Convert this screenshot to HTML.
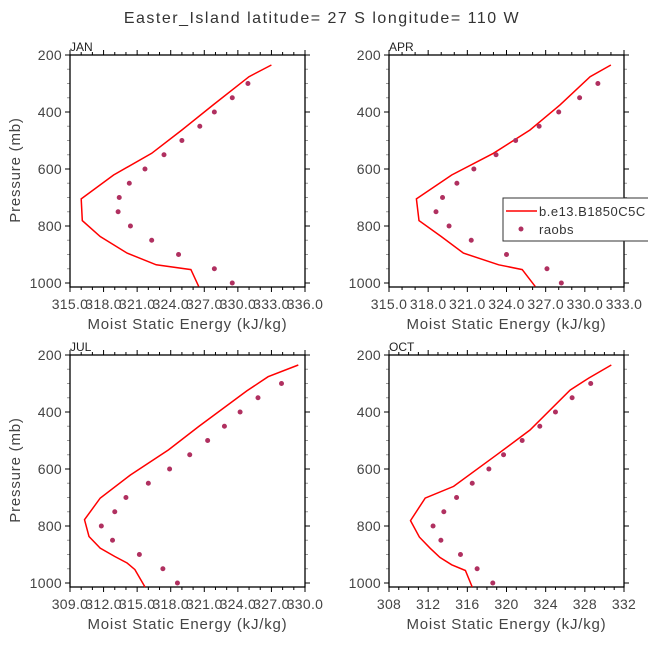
<!DOCTYPE html>
<html><head><meta charset="utf-8"><style>
html,body{margin:0;padding:0;background:#fff;}
svg text{font-family:"Liberation Sans",sans-serif;}
</style></head><body>
<svg id="chart" width="648" height="648" viewBox="0 0 648 648" xmlns="http://www.w3.org/2000/svg">
<rect width="648" height="648" fill="#fff"/>
<text x="322" y="23" text-anchor="middle" font-size="16" letter-spacing="1.5" fill="#333">Easter_Island  latitude= 27 S longitude= 110 W</text>
<g id="panels"></g>
<g>
<rect x="503" y="198" width="150" height="43" fill="#fff" stroke="#333" stroke-width="1"/>
<line x1="506" y1="211" x2="537" y2="211" stroke="#f00" stroke-width="1.5"/>
<text x="539" y="216" font-size="13" letter-spacing="0.5" fill="#333">b.e13.B1850C5C</text>
<circle cx="521" cy="229" r="2.5" fill="#b03060"/>
<text x="539" y="234" font-size="13" letter-spacing="0.5" fill="#333">raobs</text>
</g>
</svg>
<script>
// Data
const months = ["JAN","APR","JUL","OCT"];
const obsLevels = [300,350,400,450,500,550,600,650,700,750,800,850,900,950,1000];
const janModelP = [235,276,375,463,545,621,705,781,837,895,936,953,1012];
const janModelV = [333.0,331.0,327.8,325.0,322.3,318.9,316.0,316.1,317.7,320.1,322.7,325.8,326.5];
const janObs = [330.9,329.5,327.9,326.6,325.0,323.4,321.7,320.3,319.4,319.3,320.4,322.3,324.7,327.9,329.5];
const aprModelP = [235,276,375,463,545,621,705,781,837,895,936,953,1012];
const aprModelV = [332.0,330.4,328.1,325.8,323.0,319.8,317.1,317.3,319.0,320.7,323.4,325.2,326.2];
const aprObs = [331.0,329.6,328.0,326.5,324.7,323.2,321.5,320.2,319.1,318.6,319.6,321.3,324.0,327.1,328.2];
const julModelP = [235,276,326,451,533,621,702,778,837,878,907,930,953,1014];
const julModelV = [329.4,326.7,324.8,320.5,317.8,314.4,311.7,310.3,310.7,311.7,313.0,314.1,314.8,315.7];
const julObs = [327.9,325.8,324.2,322.8,321.3,319.7,317.9,316.0,314.0,313.0,311.8,312.8,315.2,317.3,318.6];
const octModelP = [235,281,323,463,550,661,702,781,839,878,910,936,956,1014];
const octModelV = [330.7,328.4,326.5,322.4,319.0,314.6,311.7,310.2,311.1,312.2,313.2,314.4,315.8,316.5];
const octObs = [328.6,326.7,325.0,323.4,321.6,319.7,318.2,316.5,314.9,313.6,312.5,313.3,315.3,317.0,318.6];
const xMins = [315,315,309,308];
const xMaxs = [336,333,330,332];
const xSteps = [3,3,3,4];
const xDecimals = [1,1,1,0];
const yTicks = [200,400,600,800,1000];

const modelP = [janModelP,aprModelP,julModelP,octModelP];
const modelV = [janModelV,aprModelV,julModelV,octModelV];
const obsV = [janObs,aprObs,julObs,octObs];

const NS="http://www.w3.org/2000/svg";
const root=document.getElementById('panels');
function mk(tag,attrs,parent){const e=document.createElementNS(NS,tag);for(const k in attrs)e.setAttribute(k,attrs[k]);parent.appendChild(e);return e;}
const origins=[[70,55],[389,55],[70,355],[389,355]];
const W=235, pTop=200, pxPerMb=228/800, pBot=200+232/pxPerMb;
for(let i=0;i<4;i++){
  const [ox,oy]=origins[i];
  const g=mk('g',{},root);
  
  
  const xs=v=>ox+(v-xMins[i])/(xMaxs[i]-xMins[i])*W;
  const ys=p=>oy+(p-pTop)*pxPerMb;
  const H=ys(pBot)-oy;
  for(let p=200;p<=1000;p+=50){
    const maj=p%200===0, L=maj?5:3, y=ys(p);
    mk('line',{x1:ox-L,y1:y,x2:ox,y2:y,stroke:maj?'#000':'#999','stroke-width':1},g);
    mk('line',{x1:ox+W,y1:y,x2:ox+W+L,y2:y,stroke:maj?'#000':'#999','stroke-width':1},g);
  }
  for(let v=xMins[i];v<=xMaxs[i]+1e-6;v+=1){
    const maj=Math.abs((v-xMins[i])%xSteps[i])<1e-6, L=maj?5:3, x=xs(v);
    mk('line',{x1:x,y1:oy+H,x2:x,y2:oy+H+L,stroke:'#000','stroke-width':1},g);
    mk('line',{x1:x,y1:oy-L,x2:x,y2:oy,stroke:'#000','stroke-width':1},g);
  }
  const frame=mk('rect',{x:ox,y:oy,width:W,height:H,fill:'none',stroke:'#000','stroke-width':1.3},g);
  
  
  yTicks.forEach(p=>{
    const t=mk('text',{x:ox-8,y:ys(p)+5,'text-anchor':'end','font-size':14,'letter-spacing':0.3,fill:'#444'},g);
    
    
    t.textContent=p;
  });
  for(let v=xMins[i];v<=xMaxs[i]+1e-6;v+=xSteps[i]){
    const t=mk('text',{x:xs(v),y:oy+H+22,'text-anchor':'middle','font-size':14,'letter-spacing':0.3,fill:'#444'},g);
    
    
    t.textContent=v.toFixed(xDecimals[i]);
  }
  const xt=mk('text',{x:ox+W/2,y:oy+H+42,'text-anchor':'middle','font-size':15,'letter-spacing':0.8,fill:'#444'},g);
  
  
  xt.textContent='Moist Static Energy (kJ/kg)';
  const mt=mk('text',{x:ox,y:oy-4,'font-size':12,fill:'#222'},g);
  
  
  mt.textContent=months[i];
  if(i%2===0){
    const yt=mk('text',{x:0,y:0,'text-anchor':'middle','font-size':15,'letter-spacing':0.8,fill:'#444',transform:`translate(20,${oy+115}) rotate(-90)`},g);
    
    
    yt.textContent='Pressure (mb)';
  }
  const pts=modelP[i].map((p,k)=>xs(modelV[i][k]).toFixed(1)+','+ys(p).toFixed(1)).join(' ');
  const pl=mk('polyline',{points:pts,fill:'none',stroke:'#f00','stroke-width':1.5},g);
  
  
  obsLevels.forEach((p,k)=>{
    const c=mk('circle',{cx:xs(obsV[i][k]),cy:ys(p),r:2.5,fill:'#b03060'},g);
    
    
  });
}
</script>
</body></html>
